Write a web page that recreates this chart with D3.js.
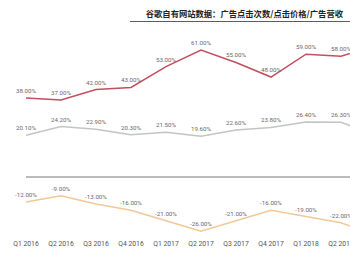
<!DOCTYPE html>
<html>
<head>
<meta charset="utf-8">
<script src="https://cdn.jsdelivr.net/npm/d3@7"></script>
<style>
  body { margin: 0; background: #fff; }
  svg { display: block; }
  .lbl { font-family: Roboto, "Open Sans", sans-serif; font-size: 6.2px; fill: #6a6a6a; }
  .xlab { font-family: Roboto, "Open Sans", sans-serif; font-size: 6.8px; fill: #555; }
</style>
</head>
<body>
<div id="container"></div>
<script>
// categories (last one is cut off at the right edge in the reference)
const quarters = ["Q1 2016", "Q2 2016", "Q3 2016", "Q4 2016", "Q1 2017", "Q2 2017",
                  "Q3 2017", "Q4 2017", "Q1 2018", "Q2 2018", "Q3 2018"];
const clicks = [38, 37, 42, 43, 53, 61, 55, 48, 59, 58, 63];
const revenue = [20.1, 24.2, 22.9, 20.3, 21.5, 19.6, 22.6, 23.8, 26.4, 26.3, 20];
const price = [-12, -9, -13, -16, -21, -26, -21, -16, -19, -22, -28];
const title = "谷歌自有网站数据：广告点击次数/点击价格/广告营收";

const W = 350, H = 260;

const svg = d3.select("#container").append("svg")
  .attr("width", W).attr("height", H);

const x = d3.scalePoint().domain(quarters).range([26, 376]);
const y = d3.scaleLinear().domain([0, 61]).range([177, 50]);

// title
svg.append("text")
  .attr("x", 343).attr("y", 17)
  .attr("text-anchor", "end")
  .style("font-family", "'Noto Sans CJK SC', sans-serif")
  .style("font-weight", "bold")
  .style("font-size", "8.3px")
  .style("fill", "#222")
  .text(title);

svg.append("line")
  .attr("x1", 130).attr("x2", W)
  .attr("y1", 21.5).attr("y2", 21.5)
  .attr("stroke", "#333").attr("stroke-width", 0.8);

// zero line
svg.append("line")
  .attr("x1", 26).attr("x2", W)
  .attr("y1", y(0)).attr("y2", y(0))
  .attr("stroke", "#777").attr("stroke-width", 1);

const series = [
  { values: clicks, color: "#c0505e" },
  { values: revenue, color: "#c4c4c4" },
  { values: price, color: "#f2c79a" }
];

const line = d3.line()
  .x((d, i) => x(quarters[i]))
  .y(d => y(d));

series.forEach(s => {
  svg.append("path")
    .datum(s.values)
    .attr("d", line)
    .attr("fill", "none")
    .attr("stroke", s.color)
    .attr("stroke-width", 1.5);

  // the last point lies beyond the visible area, so no label for it
  svg.selectAll(null)
    .data(s.values.slice(0, -1))
    .enter()
    .append("text")
    .attr("class", "lbl")
    .attr("x", (d, i) => x(quarters[i]))
    .attr("y", d => y(d) - 5)
    .attr("text-anchor", "middle")
    .text(d => d.toFixed(2) + "%");
});

// x axis labels
svg.selectAll(null)
  .data(quarters.slice(0, -1))
  .enter()
  .append("text")
  .attr("class", "xlab")
  .attr("x", d => x(d))
  .attr("y", 246)
  .attr("text-anchor", "middle")
  .text(d => d);
</script>
</body>
</html>
